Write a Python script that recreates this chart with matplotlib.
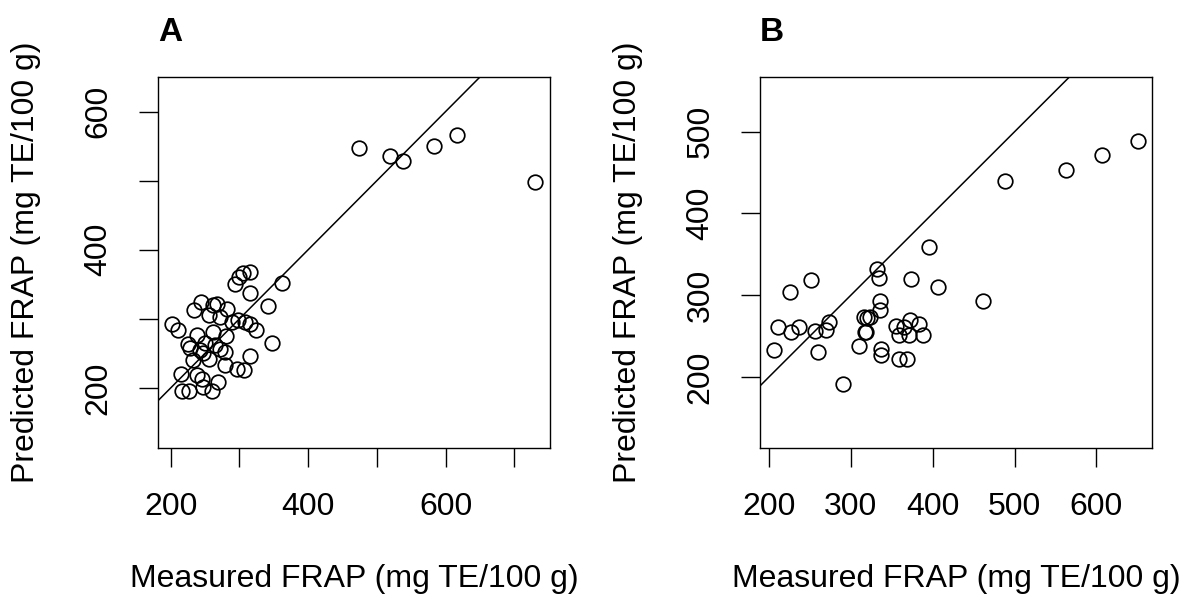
import matplotlib
matplotlib.use("Agg")
from matplotlib import pyplot as plt

plt.rcParams['font.family'] = ['Liberation Sans', 'DejaVu Sans']

# Panel A: measured vs predicted FRAP (mg TE/100 g)
a_measured = [474, 519, 538, 583, 617, 730, 361.6, 341, 347, 315, 315.5,
              293.6, 300, 305.8, 315.5, 243.7, 234, 262, 267, 281.5, 255,
              272, 201.5, 211, 289, 298.5, 307.6, 315.5, 324, 238, 262,
              280.5, 225.7, 242.7, 264.5, 272, 279, 255, 233, 247.5, 279,
              296, 307, 214.6, 238, 245, 247.6, 269.4, 259.7, 217, 226.7,
              228, 250]
a_predicted = [547, 536, 528, 550, 566, 498, 352, 318.8, 265, 337.7, 246,
               350, 360, 365.7, 367.6, 324.6, 312.6, 320, 322, 313.5, 305,
               303, 292, 283.6, 295.6, 298, 295.6, 293, 284.5, 276, 281,
               275, 264, 255, 262, 257, 252, 242.5, 241, 250, 233,
               228, 225.6, 220, 218, 213.5, 201.5, 208.7, 195, 195, 195,
               258, 265]

# Panel B
b_measured = [650.8, 607, 563.5, 488.9, 461.5, 395.4, 407, 373, 331.8,
              334.6, 335.9, 335.9, 251, 225.7, 211.4, 206.5, 226.5, 237,
              256.3, 269.8, 273.8, 260, 289.8, 309.8, 315.5, 319.5, 323.6,
              317.5, 318.5, 336.7, 336.7, 354.6, 358.7, 364.4, 370.5, 372.6,
              383.6, 387.7, 358.7, 368.5]
b_predicted = [488.5, 471.4, 453, 440, 292.5, 358.5, 310, 320, 332,
               320.6, 293.3, 282, 318.6, 303.5, 261.5, 233, 255.4, 261.5,
               256.6, 257.5, 267.6, 230, 191, 238.3, 273.8, 271.7, 273.8,
               255.4, 254.5, 233.8, 227, 262.8, 251.3, 261.5, 251, 269.7,
               264.8, 251.3, 222, 222]

panels = [
    ("A", a_measured, a_predicted, (181.5, 752), (113, 650),
     [200, 300, 400, 500, 600, 700], ["200", "", "400", "", "600", ""],
     [200, 300, 400, 500, 600], ["200", "", "400", "", "600"], 0.1329),
    ("B", b_measured, b_predicted, (189, 668), (113, 567),
     [200, 300, 400, 500, 600], ["200", "300", "400", "500", "600"],
     [200, 300, 400, 500], ["200", "300", "400", "500"], 0.6392),
]

fig = plt.figure(figsize=(11.89, 6.05), dpi=100)

for name, xs, ys, xlim, ylim, xt, xtl, yt, ytl, left in panels:
    ax = fig.add_axes([left, 0.2595, 0.3297, 0.6132])
    ax.plot(xs, ys, linestyle='none', marker='o', markersize=10.5,
            markerfacecolor='none', markeredgecolor='black',
            markeredgewidth=1.25)
    # 1:1 line
    ax.axline((0, 0), slope=1, color='black', linewidth=1.1)
    ax.set_xlim(*xlim)
    ax.set_ylim(*ylim)
    ax.set_xticks(xt)
    ax.set_xticklabels(xtl)
    ax.set_yticks(yt)
    ax.set_yticklabels(ytl)
    ax.tick_params(direction='out', length=14, width=1.0, labelsize=23,
                   pad=18, color='black')
    for lab in ax.get_yticklabels():
        lab.set_rotation(90)
        lab.set_va('center')
    for sp in ax.spines.values():
        sp.set_linewidth(1.0)
    ax.set_xlabel("Measured FRAP (mg TE/100 g)", fontsize=23, labelpad=30)
    ax.set_ylabel("Predicted FRAP (mg TE/100 g)", fontsize=23, labelpad=31)
    ax.set_title(name, loc='left', fontsize=24, fontweight='bold', pad=26)

fig.savefig("out.png", dpi=100)
